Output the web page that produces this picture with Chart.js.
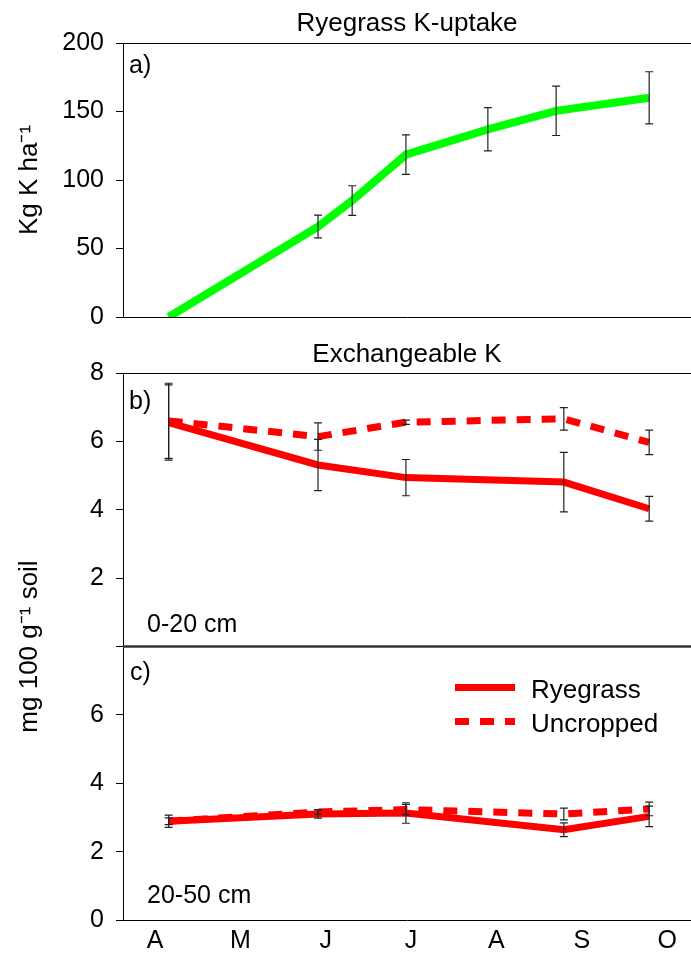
<!DOCTYPE html>
<html>
<head>
<meta charset="utf-8">
<title>Ryegrass K-uptake and exchangeable K</title>
<script src="https://cdn.jsdelivr.net/npm/chart.js@4.4.1/dist/chart.umd.min.js"></script>
<style>
  body { margin: 0; background: #fff; }
  canvas { display: block; }
  #soil-chart { margin-top: -14px; }
</style>
</head>
<body>
<canvas id="uptake-chart" width="691" height="344"></canvas>
<canvas id="soil-chart" width="691" height="624"></canvas>
<script>
// x is counted in months from the start of April: 0 = A, 1 = M ... 6 = O
const monthLabels = ['A', 'M', 'J', 'J', 'A', 'S', 'O'];

// a) ryegrass K uptake (kg K/ha)
const uptakeMonths = [0.16, 1.91, 2.31, 2.94, 3.90, 4.70, 5.79];
const uptake = [0, 66, 85, 118.5, 137, 150.5, 160];
const uptakeErr = [0, 8.3, 10.8, 14.4, 15.8, 18, 19];

// b) 0-20 cm and c) 20-50 cm exchangeable K (mg/100 g soil)
const soilMonths = [0.16, 1.91, 2.94, 4.79, 5.79];
const ryeTop = [6.55, 5.31, 4.94, 4.81, 4.03];
const ryeTopErr = [1.1, 0.75, 0.53, 0.87, 0.36];
const uncTop = [6.6, 6.14, 6.56, 6.66, 5.97];
const uncTopErr = [1.1, 0.4, 0.06, 0.33, 0.36];
const ryeSub = [2.89, 3.1, 3.13, 2.64, 3.03];
const ryeSubErr = [0.18, 0.12, 0.3, 0.2, 0.3];
const uncSub = [2.89, 3.16, 3.23, 3.1, 3.25];
const uncSubErr = [0.1, 0.07, 0.15, 0.17, 0.2];

const xMin = -0.375;
const xMax = 6.28;
const FONT = '"Liberation Sans", Arial, sans-serif';

Chart.defaults.font.family = FONT;
Chart.defaults.color = '#000';

const points = (xs, ys) => xs.map((x, i) => ({ x: x, y: ys[i] }));

function text(ctx, str, x, y, size, align) {
    ctx.font = size + 'px ' + FONT;
    ctx.fillStyle = '#000';
    ctx.textAlign = align || 'left';
    ctx.textBaseline = 'alphabetic';
    ctx.fillText(str, x, y);
}

function vtext(ctx, str, x, y, size) {
    ctx.save();
    ctx.translate(x, y);
    ctx.rotate(-Math.PI / 2);
    text(ctx, str, 0, 0, size, 'center');
    ctx.restore();
}

// vertical error bars with caps, drawn from dataset.errors
const errorBars = {
    id: 'errorBars',
    afterDatasetsDraw(chart) {
        const ctx = chart.ctx;
        const xs = chart.scales.x;
        ctx.save();
        ctx.strokeStyle = '#222';
        ctx.lineWidth = 1.2;
        chart.data.datasets.forEach(ds => {
            if (!ds.errors) return;
            const ys = chart.scales[ds.yAxisID || 'y'];
            ds.data.forEach((p, i) => {
                const e = ds.errors[i];
                if (!e) return;
                const x = xs.getPixelForValue(p.x);
                const top = ys.getPixelForValue(p.y + e);
                const bottom = ys.getPixelForValue(p.y - e);
                ctx.beginPath();
                ctx.moveTo(x, top);
                ctx.lineTo(x, bottom);
                ctx.moveTo(x - 4, top);
                ctx.lineTo(x + 4, top);
                ctx.moveTo(x - 4, bottom);
                ctx.lineTo(x + 4, bottom);
                ctx.stroke();
            });
        });
        ctx.restore();
    }
};

// top frame line of each panel
const topLine = {
    id: 'topLine',
    beforeDatasetsDraw(chart) {
        const { ctx, chartArea } = chart;
        ctx.save();
        ctx.strokeStyle = '#000';
        ctx.lineWidth = 1;
        ctx.beginPath();
        ctx.moveTo(chartArea.left, chartArea.top + 0.5);
        ctx.lineTo(chartArea.right, chartArea.top + 0.5);
        ctx.stroke();
        ctx.restore();
    }
};

const uptakeText = {
    id: 'uptakeText',
    afterDraw(chart) {
        const { ctx, chartArea } = chart;
        text(ctx, 'Ryegrass K-uptake', (chartArea.left + chartArea.right) / 2, chartArea.top - 12, 26, 'center');
        text(ctx, 'a)', chartArea.left + 6, chartArea.top + 30, 25);
        vtext(ctx, 'Kg K ha\u207B\u00B9', 37, (chartArea.top + chartArea.bottom) / 2, 26);
    }
};

const soilText = {
    id: 'soilText',
    afterDraw(chart) {
        const { ctx, chartArea } = chart;
        const yb = chart.scales.yb;
        const yc = chart.scales.yc;
        // thick line between b) and c)
        ctx.save();
        ctx.strokeStyle = '#333';
        ctx.lineWidth = 2.5;
        ctx.beginPath();
        ctx.moveTo(chartArea.left, yb.bottom);
        ctx.lineTo(chartArea.right, yb.bottom);
        ctx.stroke();
        ctx.restore();

        text(ctx, 'Exchangeable K', (chartArea.left + chartArea.right) / 2, chartArea.top - 11, 26, 'center');
        text(ctx, 'b)', chartArea.left + 6, yb.top + 36, 25);
        text(ctx, '0-20 cm', chartArea.left + 24, yb.bottom - 15, 25);
        text(ctx, 'c)', chartArea.left + 7, yc.top + 33, 25);
        text(ctx, '20-50 cm', chartArea.left + 24, yc.bottom - 17, 25);
        vtext(ctx, 'mg 100 g\u207B\u00B9 soil', 37, yb.bottom, 26);

        // legend
        const items = chart.data.datasets.filter(ds => ds.inLegend);
        items.forEach((ds, i) => {
            const y = yc.top + 41 + i * 34;
            ctx.save();
            ctx.strokeStyle = ds.borderColor;
            ctx.lineWidth = ds.borderWidth;
            ctx.setLineDash(ds.borderDash || []);
            ctx.beginPath();
            ctx.moveTo(455, y);
            ctx.lineTo(515, y);
            ctx.stroke();
            ctx.restore();
            text(ctx, ds.label, 531, y + 10, 26);
        });
    }
};

const yTicks = { color: '#000', font: { size: 25 }, padding: 12 };
const yGrid = { drawOnChartArea: false, tickLength: 7, color: '#000' };

new Chart(document.getElementById('uptake-chart'), {
    type: 'line',
    data: {
        datasets: [{
            label: 'Ryegrass',
            data: points(uptakeMonths, uptake),
            errors: uptakeErr,
            borderColor: '#00ff00',
            borderWidth: 8,
            pointRadius: 0,
            tension: 0
        }]
    },
    options: {
        responsive: false,
        animation: false,
        layout: { padding: { top: 43, bottom: 0, left: 0, right: 0 } },
        plugins: { legend: { display: false }, tooltip: { enabled: false } },
        scales: {
            x: {
                type: 'linear', min: xMin, max: xMax,
                ticks: { display: false },
                grid: { display: false },
                border: { color: '#000' },
                afterFit: s => { s.height = 0; }
            },
            y: {
                min: 0, max: 200,
                ticks: Object.assign({ stepSize: 50 }, yTicks),
                grid: yGrid,
                border: { color: '#000' },
                afterFit: s => { s.width = 123; }
            }
        }
    },
    plugins: [topLine, errorBars, uptakeText]
});

const red = '#ff0000';
const dash = [14, 11];

new Chart(document.getElementById('soil-chart'), {
    type: 'line',
    data: {
        datasets: [
            { label: 'Ryegrass', inLegend: true, yAxisID: 'yb', data: points(soilMonths, ryeTop), errors: ryeTopErr,
              borderColor: red, borderWidth: 7, pointRadius: 0, tension: 0 },
            { label: 'Uncropped', inLegend: true, yAxisID: 'yb', data: points(soilMonths, uncTop), errors: uncTopErr,
              borderColor: red, borderWidth: 7, borderDash: dash, pointRadius: 0, tension: 0 },
            { label: 'Ryegrass', yAxisID: 'yc', data: points(soilMonths, ryeSub), errors: ryeSubErr,
              borderColor: red, borderWidth: 7, pointRadius: 0, tension: 0 },
            { label: 'Uncropped', yAxisID: 'yc', data: points(soilMonths, uncSub), errors: uncSubErr,
              borderColor: red, borderWidth: 7, borderDash: dash, pointRadius: 0, tension: 0 }
        ]
    },
    options: {
        responsive: false,
        animation: false,
        layout: { padding: { top: 43, bottom: 0, left: 0, right: 0 } },
        plugins: { legend: { display: false }, tooltip: { enabled: false } },
        scales: {
            x: {
                type: 'linear', min: xMin, max: xMax,
                afterBuildTicks: s => { s.ticks = monthLabels.map((m, i) => ({ value: i })); },
                ticks: { color: '#000', font: { size: 25 }, padding: 6, maxRotation: 0, callback: (v, i) => monthLabels[i] },
                grid: { display: false, drawTicks: false },
                border: { color: '#000' },
                afterFit: s => { s.height = 34; }
            },
            // stacked axes are laid out bottom-up, so the lower panel c) comes first
            yc: {
                position: 'left', stack: 'soil', stackWeight: 1,
                min: 0, max: 8,
                ticks: Object.assign({ stepSize: 2, callback: v => (v === 8 ? '' : v) }, yTicks),
                grid: yGrid,
                border: { color: '#000' },
                afterFit: s => { s.width = 123; }
            },
            yb: {
                position: 'left', stack: 'soil', stackWeight: 1,
                min: 0, max: 8,
                ticks: Object.assign({ stepSize: 2, callback: v => (v === 0 ? '' : v) }, yTicks),
                grid: yGrid,
                border: { color: '#000' },
                afterFit: s => { s.width = 123; }
            }
        }
    },
    plugins: [topLine, errorBars, soilText]
});
</script>
</body>
</html>
